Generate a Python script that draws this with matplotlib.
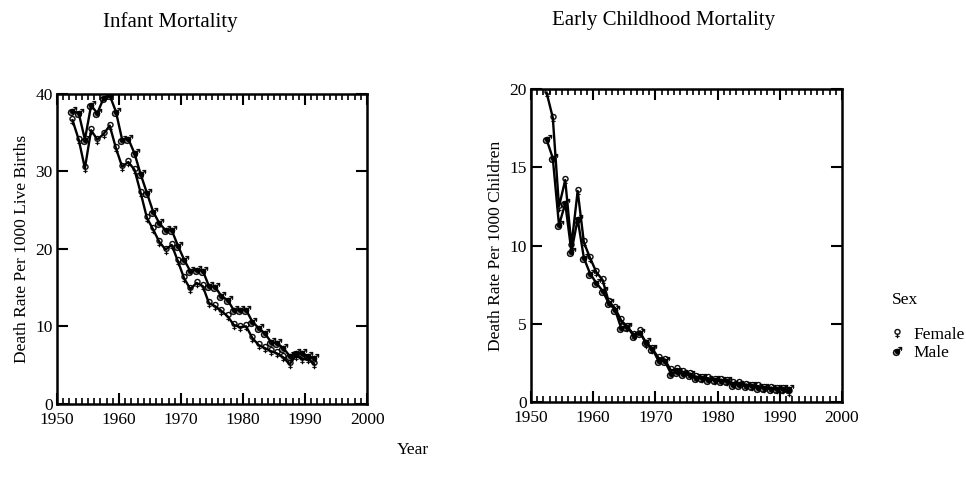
import numpy as np
import matplotlib
matplotlib.use("Agg")
import matplotlib.pyplot as plt
from matplotlib.lines import Line2D
from matplotlib.ticker import MultipleLocator

plt.rcParams['font.family'] = ['Liberation Serif', 'DejaVu Serif']
plt.rcParams['mathtext.fontset'] = 'dejavusans'

years = list(range(1952, 1992))

infant_female = [36.6, 34.1, 30.4, 35.3, 34.1, 34.8, 35.9, 33.0, 30.6, 31.2,
                 30.2, 27.2, 24.0, 22.5, 20.9, 19.9, 20.5, 18.4, 16.2, 14.8,
                 15.6, 15.2, 13.0, 12.6, 12.0, 11.3, 10.2, 9.9, 10.0, 8.5,
                 7.6, 7.2, 6.8, 6.5, 6.0, 5.1, 6.2, 5.8, 5.8, 5.1]
infant_male = [37.8, 37.5, 34.1, 38.5, 37.5, 39.4, 39.8, 37.7, 34.1, 34.2,
               32.3, 29.6, 27.2, 24.8, 23.3, 22.4, 22.4, 20.4, 18.6, 17.1,
               17.3, 17.2, 15.2, 15.1, 13.9, 13.4, 12.1, 12.1, 12.1, 10.6,
               9.8, 9.1, 8.0, 7.8, 7.2, 6.2, 6.5, 6.5, 6.2, 5.9]

child_female = [19.8, 18.2, 12.5, 14.2, 10.0, 13.5, 10.2, 9.2, 8.3, 7.8,
                6.4, 6.0, 5.2, 4.8, 4.3, 4.5, 3.7, 3.4, 2.8, 2.7,
                2.0, 2.1, 1.9, 1.8, 1.6, 1.5, 1.5, 1.4, 1.4, 1.3,
                1.2, 1.2, 1.1, 1.0, 1.0, 0.9, 0.9, 0.8, 0.8, 0.6]
child_male = [16.8, 15.6, 11.3, 12.7, 9.6, 11.7, 9.2, 8.2, 7.6, 7.1,
              6.3, 5.9, 4.7, 4.8, 4.2, 4.4, 3.8, 3.4, 2.6, 2.6,
              1.8, 1.9, 1.8, 1.7, 1.5, 1.5, 1.4, 1.4, 1.3, 1.3,
              1.1, 1.1, 1.0, 1.0, 0.9, 0.9, 0.8, 0.8, 0.8, 0.8]

x = np.array(years) + 0.5

fig = plt.figure(figsize=(9.66, 4.86), dpi=100)
ax1 = fig.add_axes([0.059, 0.169, 0.321, 0.638])
ax2 = fig.add_axes([0.5497, 0.1735, 0.322, 0.6425])

fem_kw = dict(marker='$\u2640$', ms=6.5, mec='black', mfc='black', mew=0.3, ls='none')
male_dot = dict(marker='o', ms=3.6, mfc='black', mec='black', mew=0.5, ls='none')
male_arr = dict(marker='$\u2642$', ms=6.5, mec='black', mfc='black', mew=0.3, ls='none')


def draw(ax, fem, male, ymax, ystep, ylabel):
    ax.plot(x, fem, color='black', lw=1.7, zorder=2)
    ax.plot(x, male, color='black', lw=1.7, zorder=2)
    ax.plot(x, fem, zorder=3, **fem_kw)
    ax.plot(x, male, zorder=3, **male_arr)
    ax.plot(x, male, zorder=4, **male_dot)
    ax.set_xlim(1950, 2000)
    ax.set_ylim(0, ymax)
    ax.xaxis.set_major_locator(MultipleLocator(10))
    ax.xaxis.set_minor_locator(MultipleLocator(1))
    ax.yaxis.set_major_locator(MultipleLocator(ystep))
    ax.tick_params(which='both', direction='in', top=True, right=True,
                   labelsize=12.5, width=1.5, pad=3)
    ax.tick_params(axis='x', pad=6)
    ax.tick_params(which='major', length=8)
    ax.tick_params(which='minor', length=4, width=1.2)
    for s in ax.spines.values():
        s.set_linewidth(1.8)
    ax.set_ylabel(ylabel, fontsize=12.5, labelpad=4)


draw(ax1, infant_female, infant_male, 40, 10, 'Death Rate Per 1000 Live Births')
draw(ax2, child_female, child_male, 20, 5, 'Death Rate Per 1000 Children')

fig.text(170 / 966, 1 - 22 / 486, 'Infant Mortality', fontsize=15, ha='center', va='center')
fig.text(664 / 966, 1 - 20 / 486, 'Early Childhood Mortality', fontsize=15, ha='center', va='center')
fig.text(413 / 966, 1 - 450 / 486, 'Year', fontsize=12.5, ha='center', va='center')
fig.text(905 / 966, 1 - 300 / 486, 'Sex', fontsize=12.5, ha='center', va='center')

h_f = Line2D([], [], **fem_kw)
h_m = (Line2D([], [], **male_arr), Line2D([], [], **male_dot))
fig.legend([h_f, h_m], ['Female', 'Male'], loc='upper left',
           bbox_to_anchor=(0.913, 0.345), frameon=False, fontsize=12.5,
           borderpad=0, handlelength=0.7, handletextpad=0.6,
           labelspacing=0.1)

fig.savefig('out.png', dpi=100)
